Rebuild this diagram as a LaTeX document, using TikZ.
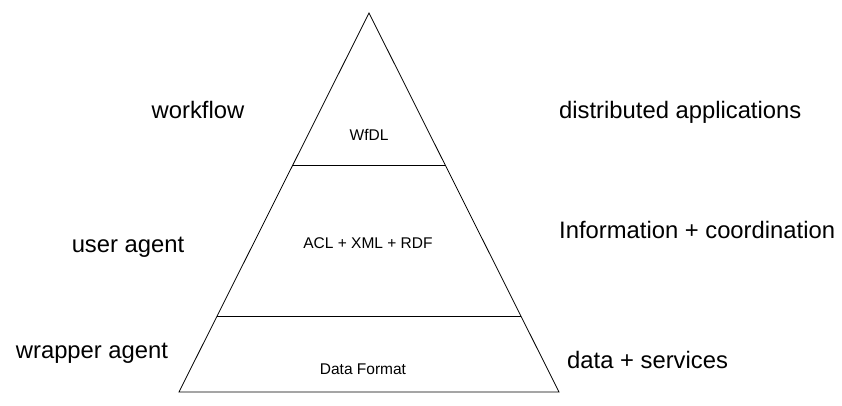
\documentclass[tikz,border=0pt]{standalone}
\usepackage{fontspec}
\setmainfont{Liberation Sans}
\usetikzlibrary{calc, positioning}

\begin{document}
\begin{tikzpicture}[x=1pt, y=-1pt,
  outer/.style={font=\fontsize{23.8}{26}\selectfont, inner sep=0pt},
  inner/.style={font=\fontsize{15.5}{18}\selectfont, inner sep=0pt}]
\useasboundingbox (0,0) rectangle (842,405);
% Triángulo (pirámide) con dos niveles
\coordinate (apex) at (369,13);
\coordinate (bl) at (179,392);
\coordinate (br) at (559,392);
\draw[line width=0.8pt] (apex) -- (bl) -- (br) -- cycle;
\coordinate (l1a) at ($(apex)!0.401!(bl)$);
\coordinate (l1b) at ($(apex)!0.401!(br)$);
\coordinate (l2a) at ($(apex)!0.8!(bl)$);
\coordinate (l2b) at ($(apex)!0.8!(br)$);
\draw[line width=0.8pt] (l1a) -- (l1b); % nivel superior
\draw[line width=0.8pt] (l2a) -- (l2b); % nivel inferior
% textos dentro
\node[inner] (wfdl) at (369,135) {WfDL};
\node[inner] (acl) at (368,243) {ACL + XML + RDF};
\node[inner] (format) at (363,369) {Data Format};
% textos a la izquierda
\node[outer] (workflow) at (198,110) {workflow};
\node[outer] (user) at (128,247) {user agent};
\node[outer] (wrapper) at (92,353) {wrapper agent};
% textos a la derecha
\node[outer, anchor=west] (distrib) at (559,112) {distributed applications};
\node[outer, anchor=west] (info) at (559,230) {Information + coordination};
\node[outer, anchor=west] (services) at (567,360) {data + services};
\end{tikzpicture}
\end{document}
